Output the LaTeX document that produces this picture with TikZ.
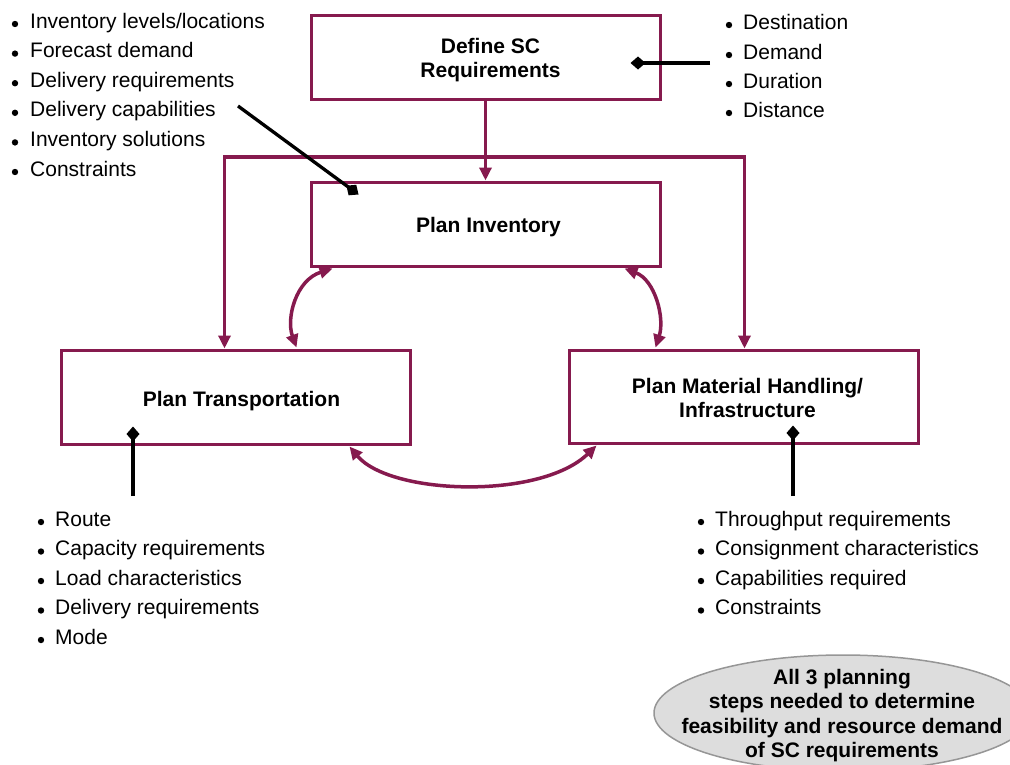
\documentclass[tikz,border=0pt]{standalone}
\usepackage{fontspec}
\setmainfont{Liberation Sans}
\usetikzlibrary{arrows.meta,calc}
\definecolor{maroon}{RGB}{134,26,78}
\definecolor{ellfill}{RGB}{221,221,221}
\definecolor{ellline}{RGB}{150,150,150}
\begin{document}
\begin{tikzpicture}[x=1pt,y=-1pt,
  >={Triangle[length=13pt,width=12pt]},
  box/.style={draw=maroon,line width=3pt,minimum width=349pt},
  boxtext/.style={align=center,inner sep=0pt,font=\fontsize{21}{24}\selectfont\bfseries},
  flow/.style={draw=maroon,line width=3.5pt,line join=miter},
  link/.style={draw=black,line width=3.3pt,-{Diamond[length=15pt,width=13pt]}},
  item/.style={anchor=base west,inner sep=0pt,font=\fontsize{21}{24}\selectfont},
  dot/.style={fill=black}]
\path[use as bounding box] (0,0) rectangle (1010,764);
\clip (0,0) rectangle (1010,764);

% boxes
\node[box,minimum height=84pt] (def) at (485.5,57) {};
\node[box,minimum height=84pt] (inv) at (485.5,224) {};
\node[box,minimum height=94pt] (trans) at (235.5,397) {};
\node[box,minimum height=93pt] (mat) at (743.5,396.5) {};
\node[boxtext] (deft) at ($(def.center)+(5,3)$) {Define SC\\Requirements};
\node[boxtext] (invt) at ($(inv.center)+(3,3)$) {Plan Inventory};
\node[boxtext] (transt) at ($(trans.center)+(6,4)$) {Plan Transportation};
\node[boxtext] (matt) at ($(mat.center)+(4,1.5)$) {Plan Material Handling/\\Infrastructure};

% maroon flows
\draw[flow,->] (def.south) -- (inv.north);
\coordinate (bar) at (485.5,157);
\draw[flow,<->] ($(trans.north west)+(165,0)$) |- (bar) -| ($(mat.north west)+(177,0)$);
\draw[flow,<->] ($(inv.south west)+(23,1)$) .. controls (296,280) and (286,318) .. ($(trans.north west)+(237,-1)$);
\draw[flow,<->] ($(inv.south east)+(-37,1)$) .. controls (655,280) and (665,318) .. ($(mat.north west)+(88,-1)$);
\draw[flow,<->] ($(trans.south east)+(-62,1)$) .. controls (390,495) and (540,500) .. ($(mat.south west)+(29,1)$);

% top-left list
\foreach \t [count=\i] in {Inventory levels/locations,Forecast demand,Delivery requirements,Delivery capabilities,Inventory solutions,Constraints}{
  \pgfmathsetmacro{\yy}{28+29.6*(\i-1)}
  \fill[dot] (15,\yy-4) circle (3.2);
  \node[item] (tl\i) at (30,\yy) {\t};
}
% top-right list
\foreach \t/\yy [count=\i] in {Destination/29,Demand/59,Duration/88,Distance/117}{
  \fill[dot] (729,\yy-4) circle (3.2);
  \node[item] (tr\i) at (743,\yy) {\t};
}
% bottom-left list
\foreach \t [count=\i] in {Route,Capacity requirements,Load characteristics,Delivery requirements,Mode}{
  \pgfmathsetmacro{\yy}{526+29.5*(\i-1)}
  \fill[dot] (41,\yy-4) circle (3.2);
  \node[item] (bl\i) at (55,\yy) {\t};
}
% bottom-right list
\foreach \t [count=\i] in {Throughput requirements,Consignment characteristics,Capabilities required,Constraints}{
  \pgfmathsetmacro{\yy}{526+29.5*(\i-1)}
  \fill[dot] (701,\yy-4) circle (3.2);
  \node[item] (br\i) at (715,\yy) {\t};
}

% black links with diamonds
\coordinate (capend) at (238,106);
\draw[link] (capend) -- ($(inv.north west)+(49,14)$);
\coordinate (defend) at (710,63);
\draw[link] (defend) -- ($(def.north east)+(-31,49.5)$);
\coordinate (trend) at (133,496);
\draw[link] (trend) -- ($(trans.south west)+(73.5,-19)$);
\coordinate (maend) at (793,496);
\draw[link] (maend) -- ($(mat.south west)+(225.5,-19)$);

% note ellipse
\coordinate (notec) at (843,713);
\draw[fill=ellfill,draw=ellline,line width=1.5pt] (notec) ellipse [x radius=189, y radius=58];
\node[align=center,font=\fontsize{21}{24.5}\selectfont\bfseries] (note) at ($(notec)+(-1,2.5)$)
  {All 3 planning\\steps needed to determine\\feasibility and resource demand\\of SC requirements};
\end{tikzpicture}
\end{document}
